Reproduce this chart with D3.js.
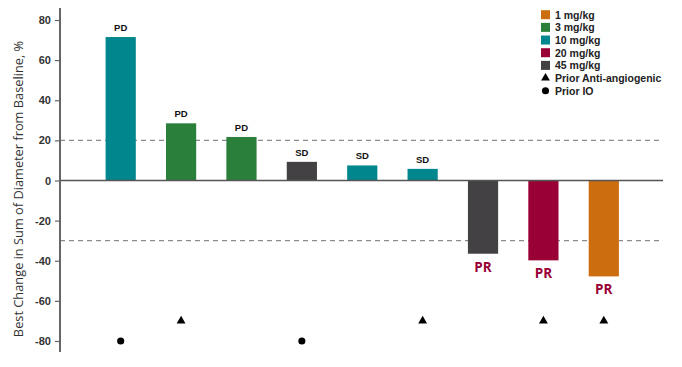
<!DOCTYPE html>
<html>
<head>
<meta charset="utf-8">
<script src="https://cdn.jsdelivr.net/npm/d3@7"></script>
<style>
  body { margin: 0; background: #fff; }
  svg { display: block; }
</style>
</head>
<body>
<div id="chart"></div>
<script>
let ctx = {
    WIDTH: 682,
    HEIGHT: 367,
};

// data
const patients = ['p1', 'p2', 'p3', 'p4', 'p5', 'p6', 'p7', 'p8', 'p9'];
const changes = [71.5, 28.5, 21.7, 9.3, 7.5, 5.8, -36.5, -39.8, -47.8];
const doses = ['10 mg/kg', '3 mg/kg', '3 mg/kg', '45 mg/kg', '10 mg/kg', '10 mg/kg', '45 mg/kg', '20 mg/kg', '1 mg/kg'];
const responses = ['PD', 'PD', 'PD', 'SD', 'SD', 'SD', 'PR', 'PR', 'PR'];
const priorAntiAngio = [false, true, false, false, false, true, false, true, true];
const priorIO = [true, false, false, true, false, false, false, false, false];

const doseLevels = ['1 mg/kg', '3 mg/kg', '10 mg/kg', '20 mg/kg', '45 mg/kg'];
const doseColors = ['#cc6e0f', '#2a7f3a', '#00868d', '#990036', '#434143'];
const yTicks = [80, 60, 40, 20, 0, -20, -40, -60, -80];
const thresholds = [20, -30];
const yTitle = 'Best Change in Sum of Diameter from Baseline, %';

const svg = d3.select('#chart').append('svg')
    .attr('width', ctx.WIDTH)
    .attr('height', ctx.HEIGHT);

const yScale = d3.scaleLinear()
    .domain([-80, 80])
    .range([341, 20]);

const xScale = d3.scaleBand()
    .domain(patients)
    .range([90.5, 634])
    .paddingInner(0.5)
    .paddingOuter(0.25);

const color = d3.scaleOrdinal()
    .domain(doseLevels)
    .range(doseColors);

const axisX = 60;
const lineEnd = 663;

// threshold dashed lines
svg.selectAll('.thr')
    .data(thresholds)
    .enter()
    .append('line')
    .attr('x1', axisX)
    .attr('x2', lineEnd)
    .attr('y1', d => yScale(d))
    .attr('y2', d => yScale(d))
    .attr('stroke', '#8c8c8c')
    .attr('stroke-width', 1.2)
    .attr('stroke-dasharray', '5,4');

// bars
svg.selectAll('.bar')
    .data(patients)
    .enter()
    .append('rect')
    .attr('x', d => xScale(d))
    .attr('width', xScale.bandwidth())
    .attr('y', (d, i) => yScale(Math.max(0, changes[i])))
    .attr('height', (d, i) => Math.abs(yScale(changes[i]) - yScale(0)))
    .attr('fill', (d, i) => color(doses[i]));

// zero line
svg.append('line')
    .attr('x1', axisX)
    .attr('x2', lineEnd)
    .attr('y1', yScale(0))
    .attr('y2', yScale(0))
    .attr('stroke', '#555')
    .attr('stroke-width', 1.5);

// y axis
const yAxis = svg.append('g')
    .attr('transform', `translate(${axisX}, 0)`)
    .call(d3.axisLeft(yScale)
        .tickValues(yTicks)
        .tickFormat(d => String(d))
        .tickSize(5)
        .tickSizeOuter(0)
        .tickPadding(4));
yAxis.select('.domain').remove();
yAxis.append('line')
    .attr('x1', 0).attr('x2', 0)
    .attr('y1', 8).attr('y2', 352)
    .attr('stroke', '#666')
    .attr('stroke-width', 2);
yAxis.selectAll('.tick line').attr('stroke', '#666').attr('stroke-width', 1.2);
yAxis.selectAll('.tick text')
    .style('font-family', '"Liberation Sans", Arial, sans-serif')
    .style('font-size', '11px')
    .style('font-weight', 'bold')
    .attr('fill', '#333');

svg.append('text')
    .attr('transform', 'rotate(-90)')
    .attr('x', -189)
    .attr('y', 23)
    .attr('text-anchor', 'middle')
    .style('font-family', '"Open Sans", sans-serif')
    .style('font-size', '12.8px')
    .attr('fill', '#333')
    .text(yTitle);

// response labels
svg.selectAll('.resp')
    .data(patients)
    .enter()
    .append('text')
    .attr('x', d => xScale(d) + xScale.bandwidth() / 2)
    .attr('y', (d, i) => changes[i] >= 0 ? yScale(changes[i]) - 6 : yScale(changes[i]) + 18)
    .attr('text-anchor', 'middle')
    .style('font-family', (d, i) => changes[i] >= 0 ? '"Liberation Sans", Arial, sans-serif' : '"Open Sans", sans-serif')
    .style('font-size', (d, i) => changes[i] >= 0 ? '9.5px' : '13.5px')
    .style('font-weight', 'bold')
    .attr('fill', (d, i) => changes[i] >= 0 ? '#111' : '#990036')
    .text((d, i) => responses[i]);

// prior therapy markers
const tri = d3.symbol().type(d3.symbolTriangle).size(34);
const dot = d3.symbol().type(d3.symbolCircle).size(40);

svg.selectAll('.tri')
    .data(patients.filter((d, i) => priorAntiAngio[i]))
    .enter()
    .append('path')
    .attr('d', tri)
    .attr('transform', d => `translate(${xScale(d) + xScale.bandwidth() / 2}, ${yScale(-70)})`)
    .attr('fill', '#000');

svg.selectAll('.dot')
    .data(patients.filter((d, i) => priorIO[i]))
    .enter()
    .append('path')
    .attr('d', dot)
    .attr('transform', d => `translate(${xScale(d) + xScale.bandwidth() / 2}, ${yScale(-80)})`)
    .attr('fill', '#000');

// legend
const legendItems = doseLevels.map(d => ({ label: d, kind: 'square' }))
    .concat([{ label: 'Prior Anti-angiogenic', kind: 'tri' }, { label: 'Prior IO', kind: 'dot' }]);

const legend = svg.append('g')
    .attr('transform', 'translate(541, 14.7)');

legendItems.forEach((item, i) => {
    const g = legend.append('g').attr('transform', `translate(0, ${i * 12.67})`);
    if (item.kind === 'square') {
        g.append('rect')
            .attr('x', 0).attr('y', -4.5)
            .attr('width', 9).attr('height', 9)
            .attr('fill', color(item.label));
    } else if (item.kind === 'tri') {
        g.append('path').attr('d', tri).attr('transform', 'translate(4.5, 0)').attr('fill', '#000');
    } else {
        g.append('path').attr('d', dot).attr('transform', 'translate(4.5, 0)').attr('fill', '#000');
    }
    g.append('text')
        .attr('x', 14)
        .attr('y', 3.8)
        .style('font-family', '"Liberation Sans", Arial, sans-serif')
        .style('font-size', '10.5px')
        .style('font-weight', 'bold')
        .attr('fill', '#222')
        .text(item.label);
});
</script>
</body>
</html>
